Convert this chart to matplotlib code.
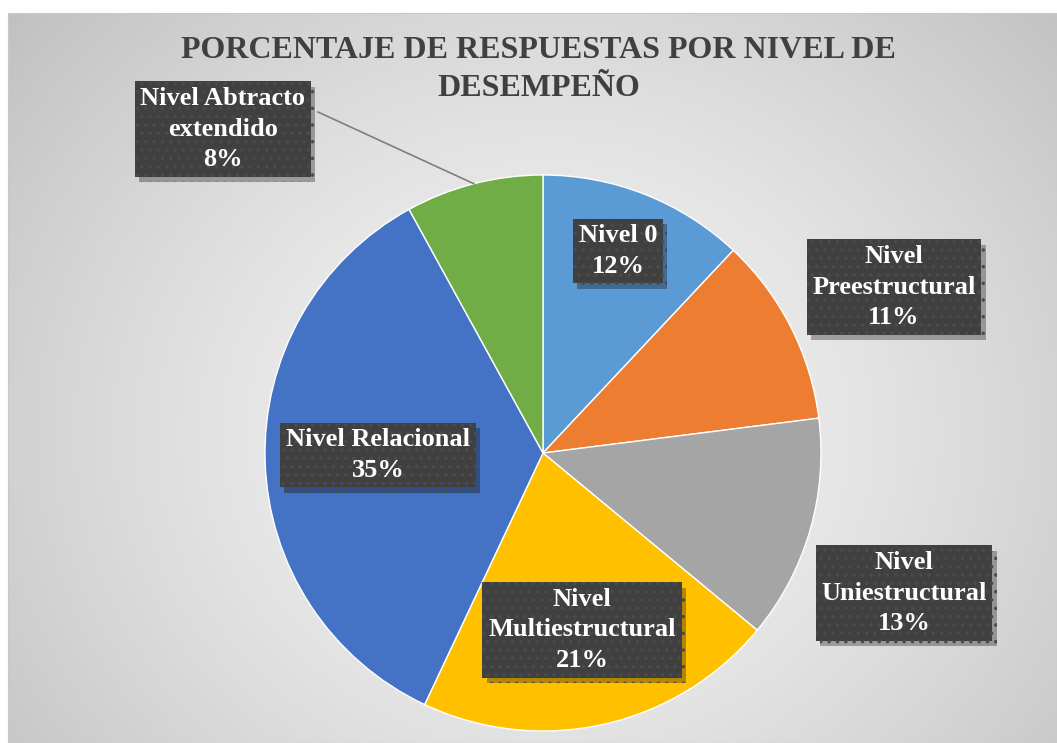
import numpy as np
import matplotlib
matplotlib.use("Agg")
import matplotlib.pyplot as plt
import matplotlib.patheffects as pe

# data
labels = ["Nivel 0", "Nivel\nPreestructural", "Nivel\nUniestructural",
          "Nivel\nMultiestructural", "Nivel Relacional", "Nivel Abtracto\nextendido"]
values = [12, 11, 13, 21, 35, 8]
colors = ["#5B9BD5", "#ED7D31", "#A5A5A5", "#FFC000", "#4472C4", "#70AD47"]
# label box centres in pixels (x, y from top)
label_pos = [(618, 251), (894, 287), (904, 593), (582, 630), (378, 455), (223, 129)]
title_lines = ["PORCENTAJE DE RESPUESTAS POR NIVEL DE", "DESEMPEÑO"]

W, H = 1057, 743
plt.rcParams["font.family"] = ["Liberation Serif", "DejaVu Serif"]
plt.rcParams["hatch.linewidth"] = 1.3

fig = plt.figure(figsize=(W / 100, H / 100), dpi=100)
fig.patch.set_facecolor("white")

# background panel with radial gradient
bx0, by0 = 8, 13
bg = fig.add_axes([bx0 / W, 0, (W - bx0) / W, (H - by0) / H])
yy, xx = np.mgrid[0:H - by0, 0:W - bx0]
cx, cy = 540, 420
d = np.sqrt(((xx - cx) / 620.0) ** 2 + ((yy - cy) / 560.0) ** 2)
shade = 0.96 - 0.17 * np.clip(d, 0, 1.2) ** 1.4
bg.imshow(np.dstack([shade] * 3), aspect="auto", interpolation="bilinear")
bg.set_xticks([])
bg.set_yticks([])
for s in bg.spines.values():
    s.set_color("#c8c8c8")

ax = fig.add_axes([0, 0, 1, 1])
cxp, cyp, r = 543, H - 453, 278
wedges, _ = ax.pie(values, colors=colors, startangle=90, counterclock=False,
                   center=(cxp, cyp), radius=r, frame=True,
                   wedgeprops=dict(edgecolor="white", linewidth=1))
ax.set_xlim(0, W)
ax.set_ylim(0, H)
ax.set_aspect("equal")
ax.axis("off")

for i, line in enumerate(title_lines):
    ax.text(W / 2 + 10, H - 50 - 38 * i, line, ha="center", va="center",
            fontsize=23, fontweight="bold", color="#404040")

# leader line for the small green slice
w = wedges[-1]
mid = np.deg2rad((w.theta1 + w.theta2) / 2)
ex, ey = cxp + r * np.cos(mid), cyp + r * np.sin(mid)
ax.plot([318, ex], [H - 112, ey], color="#7f7f7f", lw=1.2, zorder=3)

for lab, v, (px, py) in zip(labels, values, label_pos):
    t = ax.text(px, H - py, f"{lab}\n{v}%", ha="center", va="center",
                fontsize=19, fontweight="bold", color="white", linespacing=1.4,
                zorder=5,
                bbox=dict(boxstyle="square,pad=0.22", fc="#404040", ec="#4b4b4b",
                          hatch="..", lw=0))
    t.get_bbox_patch().set_path_effects(
        [pe.SimplePatchShadow(offset=(3, -4), shadow_rgbFace="black", alpha=0.3),
         pe.Normal()])

fig.savefig("out.png", dpi=100)
